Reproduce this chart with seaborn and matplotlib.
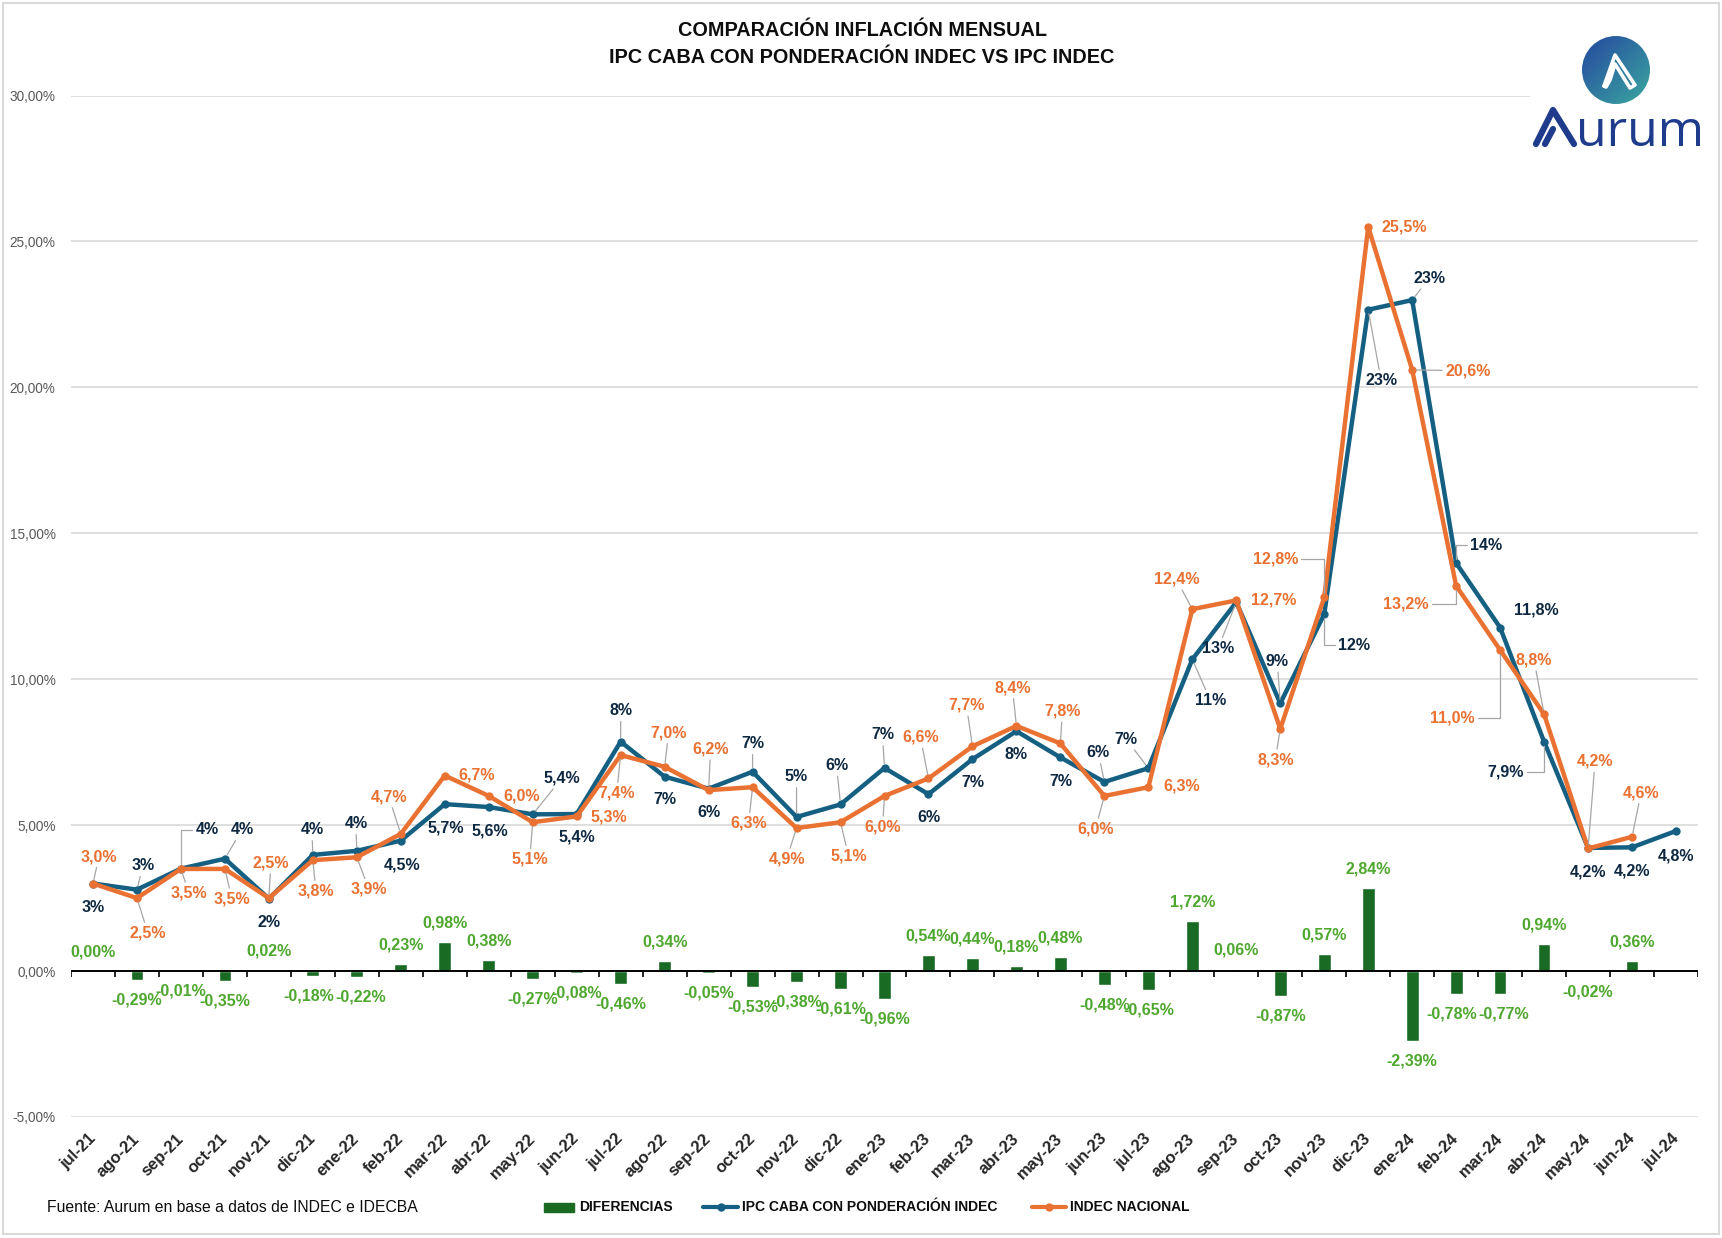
import numpy as np
import pandas as pd
import matplotlib
matplotlib.use("Agg")
import matplotlib.pyplot as plt
import seaborn as sns
from matplotlib.lines import Line2D
from matplotlib.patches import Rectangle, Circle
from matplotlib.path import Path
from matplotlib.patches import PathPatch

# ---------------- data ----------------
meses = ["jul-21", "ago-21", "sep-21", "oct-21", "nov-21", "dic-21", "ene-22", "feb-22",
         "mar-22", "abr-22", "may-22", "jun-22", "jul-22", "ago-22", "sep-22", "oct-22",
         "nov-22", "dic-22", "ene-23", "feb-23", "mar-23", "abr-23", "may-23", "jun-23",
         "jul-23", "ago-23", "sep-23", "oct-23", "nov-23", "dic-23", "ene-24", "feb-24",
         "mar-24", "abr-24", "may-24", "jun-24", "jul-24"]

indec_nacional = [3.0, 2.5, 3.5, 3.5, 2.5, 3.8, 3.9, 4.7, 6.7, 6.0, 5.1, 5.3, 7.4, 7.0, 6.2,
                  6.3, 4.9, 5.1, 6.0, 6.6, 7.7, 8.4, 7.8, 6.0, 6.3, 12.4, 12.7, 8.3, 12.8,
                  25.5, 20.6, 13.2, 11.0, 8.8, 4.2, 4.6]

ipc_caba = [3.00, 2.79, 3.51, 3.85, 2.48, 3.98, 4.12, 4.47, 5.72, 5.62, 5.37, 5.38, 7.86,
            6.66, 6.25, 6.83, 5.28, 5.71, 6.96, 6.06, 7.26, 8.22, 7.32, 6.48, 6.95, 10.68,
            12.64, 9.17, 12.23, 22.66, 22.99, 13.98, 11.77, 7.86, 4.22, 4.24, 4.80]

caba_etiquetas = ["3%", "3%", "4%", "4%", "2%", "4%", "4%", "4,5%", "5,7%", "5,6%", "5,4%",
                  "5,4%", "8%", "7%", "6%", "7%", "5%", "6%", "7%", "6%", "7%", "8%", "7%",
                  "6%", "7%", "11%", "13%", "9%", "12%", "23%", "23%", "14%", "11,8%",
                  "7,9%", "4,2%", "4,2%", "4,8%"]

diferencias = [0.00, -0.29, -0.01, -0.35, 0.02, -0.18, -0.22, 0.23, 0.98, 0.38, -0.27,
               -0.08, -0.46, 0.34, -0.05, -0.53, -0.38, -0.61, -0.96, 0.54, 0.44, 0.18,
               0.48, -0.48, -0.65, 1.72, 0.06, -0.87, 0.57, 2.84, -2.39, -0.78, -0.77,
               0.94, -0.02, 0.36]

y_ticks = [-5, 0, 5, 10, 15, 20, 25, 30]

# ---------------- label placement (pixels; style: 0 none, 1 straight leader, 2 elbow) ----
pos_indec = [(6, 27, 1), (11, -35, 1), (8, -24, 1), (7, -30, 1), (2, 35, 1), (3, -31, 1),
             (12, -32, 1), (-12, 37, 1), (32, 1, 0), (33, 0, 0), (-3, -37, 1), (32, -1, 0),
             (-4, -38, 1), (4, 34, 1), (2, 41, 1), (-4, -36, 1), (-10, -31, 1), (8, -34, 1),
             (-2, -31, 1), (-8, 41, 1), (-6, 41, 1), (-4, 38, 1), (2, 32, 1), (-9, -33, 1),
             (33, 1, 0), (-16, 30, 1), (37, 0, 0), (-5, -31, 1), (-49, 38, 2), (36, 0, 0),
             (56, -1, 1), (-50, -18, 2), (-48, -68, 2), (-10, 54, 1), (7, 87, 1), (9, 44, 1)]

pos_caba = [(0, -24, 0), (6, 24, 1), (26, 39, 2), (17, 29, 1), (0, -24, 0), (-1, 25, 1),
            (-1, 27, 1), (1, -24, 0), (1, -24, 0), (1, -24, 0), (29, 36, 1), (0, -23, 0),
            (0, 31, 1), (0, -23, 0), (0, -24, 0), (0, 28, 1), (0, 40, 1), (-4, 39, 1),
            (-2, 33, 1), (0, -23, 0), (0, -23, 0), (0, -23, 0), (0, -24, 0), (-6, 29, 1),
            (-22, 29, 1), (18, -41, 1), (-18, -46, 1), (-3, 42, 1), (30, -31, 2),
            (13, -71, 1), (17, 22, 1), (30, 18, 2), (36, 18, 0), (-39, -30, 2),
            (0, -24, 0), (0, -24, 0), (0, -25, 0)]

# horizontal nudges (pixels) for difference labels that would collide
dx_dif = [0] * 36
dx_dif[5], dx_dif[6] = -4, 4
dx_dif[31], dx_dif[32] = -4, 4

# ---------------- style ----------------
C_BLUE = "#156082"
C_ORANGE = "#E97132"
C_GREEN = "#196B24"
C_GREEN_TXT = "#4EA72E"
C_NAVY = "#0E2841"
C_LEADER = "#A6A6A6"

sns.set_style("white")
plt.rcParams["font.family"] = ["Liberation Sans", "DejaVu Sans"]

W, H = 1722, 1238
fig = plt.figure(figsize=(W / 100, H / 100), dpi=100)
fig.patch.set_facecolor("white")


def fx(px):
    return px / W


def fy(py):
    return 1 - py / H


ax = fig.add_axes([fx(71), fy(1117), (1698 - 71) / W, (1117 - 95.5) / H])

n = len(meses)
df_dif = pd.DataFrame({"mes": meses[:len(diferencias)], "dif": diferencias})
df_caba = pd.DataFrame({"i": np.arange(n), "v": ipc_caba})
df_indec = pd.DataFrame({"i": np.arange(len(indec_nacional)), "v": indec_nacional})

sns.barplot(data=df_dif, x="mes", y="dif", order=meses, color=C_GREEN, width=0.29,
            saturation=1, errorbar=None, ax=ax, zorder=2)
sns.lineplot(data=df_caba, x="i", y="v", color=C_BLUE, linewidth=3.2, marker="o",
             markersize=6, markeredgewidth=0, ax=ax, zorder=4)
sns.lineplot(data=df_indec, x="i", y="v", color=C_ORANGE, linewidth=3.2, marker="o",
             markersize=6, markeredgewidth=0, ax=ax, zorder=5)

ax.set_xlim(-0.5, n - 0.5)
ax.set_ylim(-5, 30)
ax.set_yticks(y_ticks)
ax.set_yticklabels([f"{t:.2f}%".replace(".", ",") for t in y_ticks])
ax.yaxis.grid(True, color="#D9D9D9", linewidth=1.2)
ax.xaxis.grid(False)
ax.set_axisbelow(True)
for s in ax.spines.values():
    s.set_visible(False)
ax.set_xlabel("")
ax.set_ylabel("")
ax.tick_params(axis="y", length=0, pad=11, labelsize=9.8, labelcolor="#595959")
ax.set_xticks(range(n))
ax.set_xticklabels(meses, rotation=45, ha="right", va="center", rotation_mode="anchor",
                   fontsize=12, fontweight="bold", color="#262626")
ax.tick_params(axis="x", length=0, pad=14)

# zero line with category boundary ticks
ax.axhline(0, color="black", linewidth=1.4, zorder=3)
ax.vlines(np.arange(-0.5, n, 1.0), -0.2, 0, color="black", linewidth=1.2, zorder=3)


def place(text, x, y, off, color):
    dx, dy, style = off
    props = None
    if style == 1:
        props = dict(arrowstyle="-", color=C_LEADER, lw=0.9, shrinkA=0, shrinkB=3)
    elif style == 2:
        props = dict(arrowstyle="-", color=C_LEADER, lw=0.9, shrinkA=0, shrinkB=3,
                     connectionstyle="angle,angleA=0,angleB=90,rad=0")
    ax.annotate(text, xy=(x, y), xytext=(dx, dy), textcoords="offset pixels",
                ha="center", va="center", fontsize=11.5, fontweight="bold", color=color,
                arrowprops=props, zorder=6)


for i, (v, off) in enumerate(zip(indec_nacional, pos_indec)):
    place(f"{v:.1f}%".replace(".", ","), i, v, off, C_ORANGE)
for i, (v, lab, off) in enumerate(zip(ipc_caba, caba_etiquetas, pos_caba)):
    place(lab, i, v, off, C_NAVY)
for i, v in enumerate(diferencias):
    ax.annotate(f"{v:.2f}%".replace(".", ","), xy=(i, v),
                xytext=(dx_dif[i], 19 if v >= 0 else -20),
                textcoords="offset pixels", ha="center", va="center", fontsize=11.5,
                fontweight="bold", color=C_GREEN_TXT, zorder=6)

# ---------------- title ----------------
fig.text(fx(862), fy(30), "COMPARACIÓN INFLACIÓN MENSUAL", ha="center", va="center",
         fontsize=14.3, fontweight="bold", color="#0D0D0D")
fig.text(fx(862), fy(57.5), "IPC CABA CON PONDERACIÓN INDEC VS IPC INDEC", ha="center",
         va="center", fontsize=14.3, fontweight="bold", color="#0D0D0D")

# ---------------- footer: source + legend ----------------
ly = fy(1207)
fig.text(fx(47), ly, "Fuente: Aurum en base a datos de INDEC e IDECBA", ha="left",
         va="center", fontsize=11.3, color="#0D0D0D")
fig.patches.append(Rectangle((fx(544), fy(1212)), (574 - 544) / W, 9 / H,
                             transform=fig.transFigure, color=C_GREEN, figure=fig))
fig.text(fx(579), ly, "DIFERENCIAS", ha="left", va="center", fontsize=10,
         fontweight="bold", color="#0D0D0D")
fig.lines.append(Line2D([fx(703), fx(738)], [ly, ly], transform=fig.transFigure,
                        color=C_BLUE, lw=3, figure=fig))
fig.lines.append(Line2D([fx(720.5)], [ly], transform=fig.transFigure, color=C_BLUE,
                        marker="o", markersize=6, markeredgewidth=0, figure=fig))
fig.text(fx(742), ly, "IPC CABA CON PONDERACIÓN INDEC", ha="left", va="center",
         fontsize=10, fontweight="bold", color="#0D0D0D")
fig.lines.append(Line2D([fx(1032), fx(1066)], [ly, ly], transform=fig.transFigure,
                        color=C_ORANGE, lw=3, figure=fig))
fig.lines.append(Line2D([fx(1049)], [ly], transform=fig.transFigure, color=C_ORANGE,
                        marker="o", markersize=6, markeredgewidth=0, figure=fig))
fig.text(fx(1070), ly, "INDEC NACIONAL", ha="left", va="center", fontsize=10,
         fontweight="bold", color="#0D0D0D")

# figure border
fig.patches.append(Rectangle((fx(3), fy(1234)), (1719 - 3) / W, (1234 - 3) / H,
                             transform=fig.transFigure, fill=False, edgecolor="#D9D9D9",
                             lw=1.5, figure=fig))

# ---------------- logo ----------------
lx0, lx1, ly0, ly1 = 1530, 1716, 12, 152
lax = fig.add_axes([fx(lx0), fy(ly1), (lx1 - lx0) / W, (ly1 - ly0) / H])
lax.set_xlim(lx0, lx1)
lax.set_ylim(ly1, ly0)
lax.set_facecolor("white")
lax.set_xticks([])
lax.set_yticks([])
for s in lax.spines.values():
    s.set_visible(False)
cx, cy, r = 1616, 70, 34
gx, gy = np.meshgrid(np.linspace(0, 1, 80), np.linspace(0, 1, 80))
t = (gx + (1 - gy)) / 2
c0 = np.array([0x24, 0x47, 0xA0]) / 255
c1 = np.array([0x3B, 0xA8, 0x9F]) / 255
img = c0[None, None, :] * (1 - t[..., None]) + c1[None, None, :] * t[..., None]
im = lax.imshow(img[::-1], extent=(cx - r, cx + r, cy + r, cy - r), zorder=2)
clip = Circle((cx, cy), r, transform=lax.transData, facecolor="none", edgecolor="none")
lax.add_patch(clip)
im.set_clip_path(clip)
# white symbol in circle
sym = [(1604, 86), (1615, 55), (1635, 85), (1630, 88), (1615, 64), (1610, 80),
       (1606, 87), (1604, 86)]
lax.add_patch(PathPatch(Path(sym), facecolor="none", edgecolor="white", lw=2.6,
                        joinstyle="round", capstyle="round", zorder=3))
# wordmark
navy_logo = "#1F3C8C"
Apts = [(1536, 144), (1553, 110), (1574, 144)]
lax.plot([p[0] for p in Apts], [p[1] for p in Apts], color=navy_logo, lw=4.5,
         solid_joinstyle="round", solid_capstyle="round", zorder=3)
lax.plot([1545, 1553], [144, 129], color=navy_logo, lw=4.5, solid_capstyle="round", zorder=3)
lax.text(1576, 146, "urum", ha="left", va="baseline", fontsize=36, color=navy_logo,
         family=["Open Sans", "DejaVu Sans"], zorder=3)

fig.savefig("out.png", dpi=100, facecolor="white")
